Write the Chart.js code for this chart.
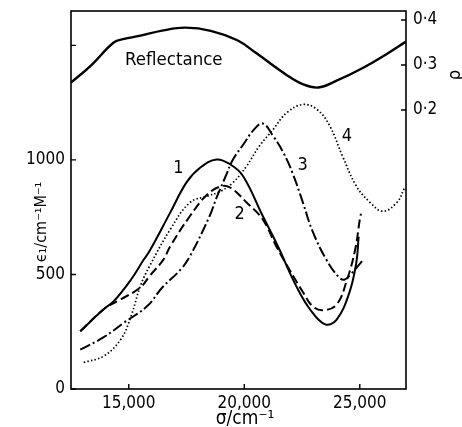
<!DOCTYPE html>
<html>
<head>
<meta charset="utf-8">
<script src="https://cdn.jsdelivr.net/npm/chart.js@4.4.0/dist/chart.umd.min.js"></script>
<style>
html,body{margin:0;padding:0;background:#fff;}
#wrap{width:462px;height:427px;position:relative;}
</style>
</head>
<body>
<div id="wrap"><canvas id="c"></canvas></div>
<script>
// ---- data ----
const xTicks = [15000, 20000, 25000];
const yTicks = [0, 500, 1000];
const yTickMarks = [0, 500, 1000, 1500];
const rTicks = [0.2, 0.3, 0.4];

const refX = [12500, 13350, 14350, 14800, 15400, 16500, 17450, 18550, 19700, 20500, 21800, 22550, 23200, 23950, 25150, 26150, 27000];
const refY = [0.261, 0.298, 0.350, 0.358, 0.364, 0.377, 0.383, 0.376, 0.355, 0.327, 0.279, 0.257, 0.250, 0.264, 0.294, 0.324, 0.352];

const c1X = [12900, 13900, 14350, 15100, 15650, 15900, 16800, 17500, 18100, 18800, 19400, 19950, 20800, 21450, 22250, 22850, 23500, 24000, 24550, 24850, 24950];
const c1Y = [252, 347, 383, 478, 565, 602, 771, 902, 967, 1002, 980, 929, 755, 624, 449, 347, 282, 303, 421, 552, 665];

const c2X = [12900, 13900, 14650, 15500, 15900, 16500, 16800, 17650, 18400, 19050, 19450, 20100, 20800, 21400, 21950, 22550, 22950, 23400, 24000, 24450, 24800, 25000, 25050];
const c2Y = [252, 347, 391, 443, 493, 565, 624, 755, 849, 886, 876, 814, 740, 620, 522, 421, 362, 344, 369, 478, 609, 740, 765];

const c3X = [12900, 13900, 14800, 15800, 16450, 17250, 17650, 18500, 18800, 19200, 19500, 19950, 20400, 20800, 21250, 21700, 22100, 22550, 22950, 23550, 24100, 24350, 24600, 25100];
const c3Y = [172, 225, 290, 362, 443, 522, 580, 755, 835, 930, 1000, 1066, 1130, 1159, 1104, 1030, 940, 810, 690, 565, 487, 478, 500, 558];

const c4X = [13050, 13900, 14650, 15100, 15500, 15900, 16800, 17650, 18400, 18950, 19500, 20100, 20650, 21250, 21850, 22550, 23150, 23700, 24250, 24850, 25450, 26000, 26600, 26950];
const c4Y = [116, 143, 216, 318, 449, 536, 697, 814, 842, 862, 900, 973, 1060, 1133, 1207, 1242, 1220, 1148, 1017, 886, 814, 776, 814, 880];

// text labels placed in data coordinates
const curveLabels = [
  {t: '1', x: 17150, y: 963},
  {t: '2', x: 19800, y: 762},
  {t: '3', x: 22530, y: 976},
  {t: '4', x: 24440, y: 1103}
];
const reflLabel = {t: 'Reflectance', x: 16950, y: 0.311};

const FONT = '"DejaVu Sans Condensed", "DejaVu Sans", sans-serif';
const pts = (xs, ys) => xs.map((x, i) => ({x: x, y: ys[i]}));

const base = {fill: false, pointRadius: 0, borderColor: '#000', tension: 0.4, borderWidth: 2};

const framePlugin = {
  id: 'frame',
  afterDraw(chart) {
    const ctx = chart.ctx, a = chart.chartArea;
    const sx = chart.scales.x, sy = chart.scales.y, sr = chart.scales.y2;
    ctx.save();
    ctx.strokeStyle = '#000';
    ctx.lineWidth = 1.6;
    ctx.strokeRect(a.left, a.top, a.right - a.left, a.bottom - a.top);
    ctx.lineWidth = 1.4;
    ctx.beginPath();
    yTickMarks.forEach(v => { const p = sy.getPixelForValue(v); ctx.moveTo(a.left, p); ctx.lineTo(a.left + 5, p); });
    xTicks.forEach(v => { const p = sx.getPixelForValue(v); ctx.moveTo(p, a.bottom); ctx.lineTo(p, a.bottom - 5); });
    rTicks.forEach(v => { const p = sr.getPixelForValue(v); ctx.moveTo(a.right, p); ctx.lineTo(a.right - 5, p); });
    ctx.stroke();

    ctx.fillStyle = '#000';
    ctx.font = '18px ' + FONT;
    ctx.textAlign = 'center';
    ctx.textBaseline = 'middle';
    curveLabels.forEach(l => ctx.fillText(l.t, sx.getPixelForValue(l.x), sy.getPixelForValue(l.y)));
    ctx.font = '18.5px ' + FONT;
    ctx.fillText(reflLabel.t, sx.getPixelForValue(reflLabel.x), sr.getPixelForValue(reflLabel.y));

    // axis titles
    ctx.font = '19px ' + FONT;
    ctx.fillText('σ/cm⁻¹', 245, 419);
    ctx.save();
    ctx.translate(42, 222);
    ctx.rotate(-Math.PI / 2);
    ctx.font = '16px ' + FONT;
    ctx.fillText('ϵ₁/cm⁻¹M⁻¹', 0, 0);
    ctx.restore();
    ctx.save();
    ctx.translate(455, 75);
    ctx.rotate(-Math.PI / 2);
    ctx.font = '18px ' + FONT;
    ctx.fillText('ρ', 0, 0);
    ctx.restore();
    ctx.restore();
  }
};

const noPadV = s => { s.paddingTop = 0; s.paddingBottom = 0; };

new Chart(document.getElementById('c'), {
  type: 'line',
  data: {
    datasets: [
      Object.assign({}, base, {label: 'Reflectance', data: pts(refX, refY), yAxisID: 'y2', borderWidth: 2.4}),
      Object.assign({}, base, {label: '1', data: pts(c1X, c1Y), yAxisID: 'y'}),
      Object.assign({}, base, {label: '2', data: pts(c2X, c2Y), yAxisID: 'y', borderDash: [9, 4]}),
      Object.assign({}, base, {label: '3', data: pts(c3X, c3Y), yAxisID: 'y', borderDash: [11, 3, 2, 3]}),
      Object.assign({}, base, {label: '4', data: pts(c4X, c4Y), yAxisID: 'y', borderDash: [1.5, 2.2], borderWidth: 1.7})
    ]
  },
  options: {
    responsive: true,
    maintainAspectRatio: false,
    animation: false,
    devicePixelRatio: 1,
    layout: {padding: {top: 11, left: 0, right: 0, bottom: 0}},
    plugins: {legend: {display: false}, tooltip: {enabled: false}},
    scales: {
      x: {
        type: 'linear', min: 12500, max: 27000,
        grid: {display: false, drawTicks: false},
        border: {display: false},
        afterBuildTicks: s => { s.ticks = xTicks.map(v => ({value: v})); },
        afterFit: s => { s.height = 38; s.paddingLeft = 0; s.paddingRight = 0; },
        ticks: {color: '#000', font: {family: FONT, size: 17}, padding: 4, maxRotation: 0,
          callback: v => v.toLocaleString('en-US')}
      },
      y: {
        type: 'linear', position: 'left', min: 0, max: 1650,
        grid: {display: false, drawTicks: false},
        border: {display: false},
        afterBuildTicks: s => { s.ticks = yTicks.map(v => ({value: v})); },
        afterFit: s => { s.width = 71; noPadV(s); },
        ticks: {color: '#000', font: {family: FONT, size: 17}, padding: 6, callback: v => String(v)}
      },
      y2: {
        type: 'linear', position: 'right', min: -0.42, max: 0.42,
        grid: {display: false, drawTicks: false},
        border: {display: false},
        afterBuildTicks: s => { s.ticks = rTicks.map(v => ({value: v})); },
        afterFit: s => { s.width = 56; noPadV(s); },
        ticks: {color: '#000', font: {family: FONT, size: 17}, padding: 7,
          callback: v => v.toFixed(1).replace('.', '·')}
      }
    }
  },
  plugins: [framePlugin]
});
</script>
</body>
</html>
